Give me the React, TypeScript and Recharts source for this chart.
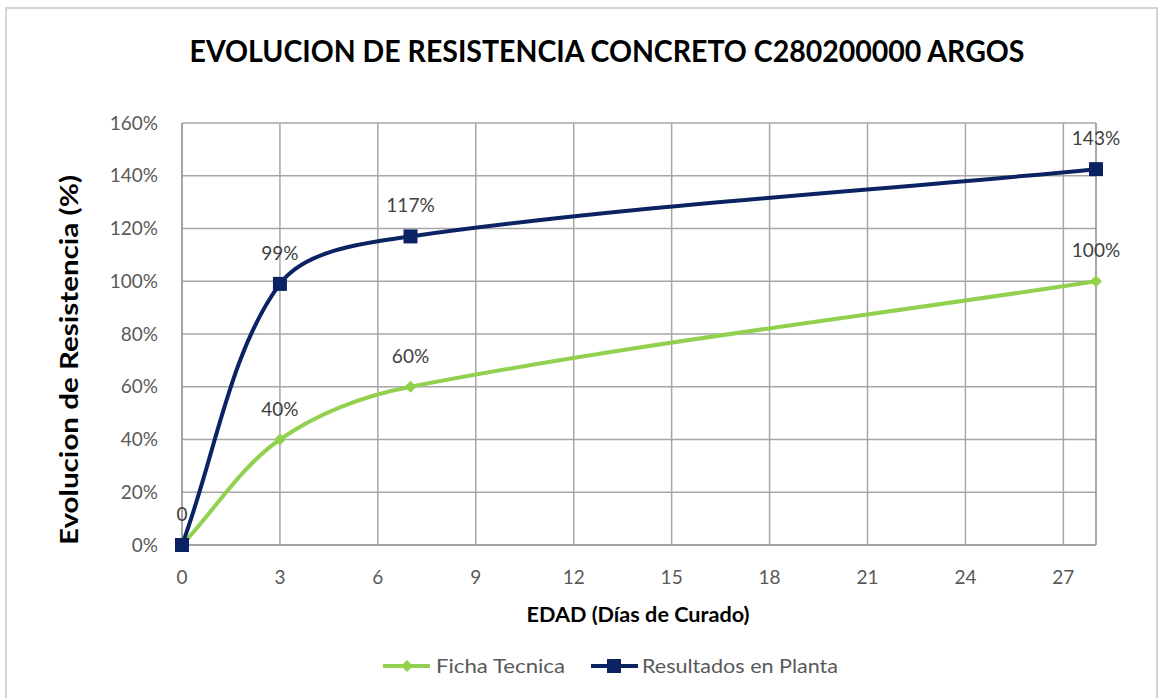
import React from "react";
import {
  LineChart,
  Line,
  XAxis,
  YAxis,
  CartesianGrid,
  ReferenceLine,
  LabelList,
} from "recharts";

const dias = [0, 3, 7, 28];
const fichaTecnica = [0, 40, 60, 100];
const resultadosPlanta = [0, 99, 117, 142.5];
const xTicks = [0, 3, 6, 9, 12, 15, 18, 21, 24, 27];
const yTicks = [0, 20, 40, 60, 80, 100, 120, 140, 160];

const data = dias.map((d, i) => ({
  dia: d,
  ficha: fichaTecnica[i],
  planta: resultadosPlanta[i],
}));

const NAVY = "#0b2363";
const GREEN = "#92d050";
const FONT = "Lato, 'Open Sans', sans-serif";

// smoothed line like the spreadsheet one: tangent from the neighbours,
// split by chord length so uneven spacing doesn't overshoot
function excelSmooth(context: any) {
  let pts: number[][] = [];
  return {
    areaStart() {},
    areaEnd() {},
    lineStart() {
      pts = [];
    },
    point(x: number, y: number) {
      pts.push([+x, +y]);
    },
    lineEnd() {
      const n = pts.length;
      if (!n) return;
      const dist = (a: number[], b: number[]) => Math.hypot(b[0] - a[0], b[1] - a[1]);
      const outCp: number[][] = [];
      const inCp: number[][] = [];
      for (let i = 0; i < n; i++) {
        const prev = pts[Math.max(i - 1, 0)];
        const next = pts[Math.min(i + 1, n - 1)];
        const p = pts[i];
        const tx = next[0] - prev[0];
        const ty = next[1] - prev[1];
        const dIn = dist(prev, p);
        const dOut = dist(p, next);
        const tot = dIn + dOut || 1;
        outCp.push([p[0] + (tx * dOut) / tot / 3, p[1] + (ty * dOut) / tot / 3]);
        inCp.push([p[0] - (tx * dIn) / tot / 3, p[1] - (ty * dIn) / tot / 3]);
      }
      context.moveTo(pts[0][0], pts[0][1]);
      for (let i = 0; i < n - 1; i++) {
        context.bezierCurveTo(
          outCp[i][0],
          outCp[i][1],
          inCp[i + 1][0],
          inCp[i + 1][1],
          pts[i + 1][0],
          pts[i + 1][1]
        );
      }
    },
  };
}

function SquareDot(props: any) {
  const { cx, cy, index } = props;
  if (cx == null || cy == null) return null;
  return <rect key={"s" + index} x={cx - 7} y={cy - 7} width={14} height={14} fill={NAVY} />;
}

function DiamondDot(props: any) {
  const { cx, cy, index } = props;
  if (cx == null || cy == null) return null;
  const r = 6;
  return (
    <polygon
      key={"d" + index}
      points={`${cx},${cy - r} ${cx + r},${cy} ${cx},${cy + r} ${cx - r},${cy}`}
      fill={GREEN}
    />
  );
}

export default function App() {
  const tickStyle = { fill: "#595959", fontSize: 19, fontFamily: FONT };
  return (
    <div style={{ position: "absolute", left: 0, top: 0, width: 1164, height: 698, background: "#fff", fontFamily: FONT }}>
      <div
        style={{
          position: "absolute",
          left: 5,
          top: 7,
          width: 1153,
          height: 700,
          border: "2px solid #d4d4d4",
          boxSizing: "border-box",
        }}
      />
      <div style={{ position: "absolute", left: 0, top: 0 }}>
        <LineChart
          width={1164}
          height={698}
          data={data}
          margin={{ top: 123, right: 68, bottom: 113, left: 0 }}
        >
          <CartesianGrid stroke="#a6a6a6" strokeWidth={1.5} verticalValues={xTicks} horizontalValues={yTicks} />
          <XAxis
            dataKey="dia"
            type="number"
            domain={[0, 28]}
            ticks={xTicks}
            interval={0}
            height={40}
            tickLine={false}
            tickMargin={20}
            stroke="#8c8c8c"
            tick={tickStyle}
          />
          <YAxis
            type="number"
            domain={[0, 160]}
            ticks={yTicks}
            interval={0}
            width={182}
            tickLine={false}
            tickMargin={18}
            stroke="#8c8c8c"
            tickFormatter={(v: number) => `${v}%`}
            tick={tickStyle}
          />
          <ReferenceLine x={28} stroke="#8c8c8c" strokeWidth={1.5} />
          <Line
            type={excelSmooth as any}
            dataKey="ficha"
            stroke={GREEN}
            strokeWidth={4}
            dot={<DiamondDot />}
            isAnimationActive={false}
          >
            <LabelList
              dataKey="ficha"
              position="top"
              offset={24}
              fill="#404040"
              fontSize={19}
              fontFamily={FONT}
              formatter={(v: any) => (v === 0 ? "" : `${Math.round(v)}%`)}
            />
          </Line>
          <Line
            type={excelSmooth as any}
            dataKey="planta"
            stroke={NAVY}
            strokeWidth={4}
            dot={<SquareDot />}
            isAnimationActive={false}
          >
            <LabelList
              dataKey="planta"
              position="top"
              offset={24}
              fill="#404040"
              fontSize={19}
              fontFamily={FONT}
              formatter={(v: any) => (v === 0 ? "0" : `${Math.round(v)}%`)}
            />
          </Line>
        </LineChart>
      </div>
      <svg
        width={1164}
        height={698}
        style={{ position: "absolute", left: 0, top: 0, pointerEvents: "none" }}
        fontFamily={FONT}
      >
        <text
          x={607}
          y={62}
          textAnchor="middle"
          fontSize={31}
          fontWeight={700}
          fill="#000"
          textLength={835}
          lengthAdjust="spacingAndGlyphs"
        >
          EVOLUCION DE RESISTENCIA CONCRETO C280200000 ARGOS
        </text>
        <text
          transform="translate(78 360) rotate(-90)"
          textAnchor="middle"
          fontSize={25}
          fontWeight={700}
          fill="#000"
          textLength={370}
          lengthAdjust="spacingAndGlyphs"
        >
          Evolucion de Resistencia (%)
        </text>
        <text
          x={638}
          y={622}
          textAnchor="middle"
          fontSize={20}
          fontWeight={700}
          fill="#000"
          textLength={223}
          lengthAdjust="spacingAndGlyphs"
        >
          EDAD (Días de Curado)
        </text>
        <line x1={383} y1={666} x2={430} y2={666} stroke={GREEN} strokeWidth={4} />
        <polygon points="407,660 413,666 407,672 401,666" fill={GREEN} />
        <text x={436} y={673} fontSize={20} fill="#595959" textLength={129} lengthAdjust="spacingAndGlyphs">
          Ficha Tecnica
        </text>
        <line x1={591} y1={666} x2={638} y2={666} stroke={NAVY} strokeWidth={4} />
        <rect x={607} y={659} width={14} height={14} fill={NAVY} />
        <text x={642} y={673} fontSize={20} fill="#595959" textLength={196} lengthAdjust="spacingAndGlyphs">
          Resultados en Planta
        </text>
      </svg>
    </div>
  );
}
